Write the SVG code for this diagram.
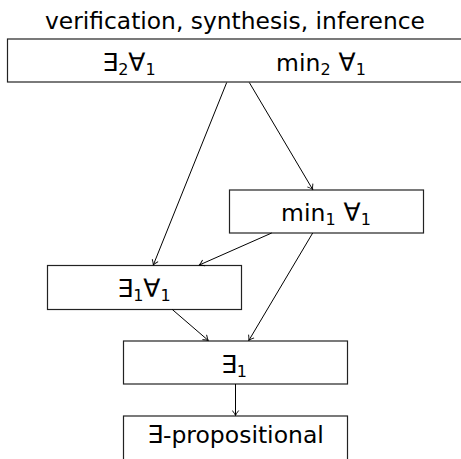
<svg xmlns="http://www.w3.org/2000/svg" width="461" height="459" viewBox="0 0 461 459">
<style>
.box{fill:#fff;stroke:#222;stroke-width:1.2}
.t{font-family:"DejaVu Sans",sans-serif;font-size:23.5px;fill:#000;text-anchor:middle}
.s{font-size:16px}
.q{font-size:25px}
.edge{fill:none;stroke:#000;stroke-width:1;marker-end:url(#arr)}
</style>
<defs>
<marker id="arr" viewBox="-6 -4 7 8" markerWidth="7" markerHeight="8" refX="0" refY="0" orient="auto" markerUnits="userSpaceOnUse">
<path d="M-5,-3.2 Q-2,-0.8 0,0 Q-2,0.8 -5,3.2" fill="none" stroke="#000" stroke-width="0.9"/>
</marker>
</defs>
<text class="t" x="235" y="29" textLength="380" lengthAdjust="spacingAndGlyphs">verification, synthesis, inference</text>
<g id="top">
<rect class="box" x="7.5" y="39" width="460" height="43"/>
<text class="t" x="129" y="71"><tspan class="q">∃</tspan><tspan class="s" dy="4">2</tspan><tspan class="q" dy="-4">∀</tspan><tspan class="s" dy="4">1</tspan></text>
<text class="t" x="321" y="71">min<tspan class="s" dy="4">2</tspan><tspan class="q" dy="-4"> ∀</tspan><tspan class="s" dy="4">1</tspan></text>
</g>
<g id="min1">
<rect class="box" x="229.5" y="190" width="194" height="43"/>
<text class="t" x="326" y="221">min<tspan class="s" dy="4">1</tspan><tspan class="q" dy="-4"> ∀</tspan><tspan class="s" dy="4">1</tspan></text>
</g>
<g id="e1a1">
<rect class="box" x="47.5" y="265.5" width="194" height="44"/>
<text class="t" x="144" y="297"><tspan class="q">∃</tspan><tspan class="s" dy="4">1</tspan><tspan class="q" dy="-4">∀</tspan><tspan class="s" dy="4">1</tspan></text>
</g>
<g id="e1">
<rect class="box" x="123.5" y="341" width="224" height="43"/>
<text class="t" x="234" y="373"><tspan class="q">∃</tspan><tspan class="s" dy="4">1</tspan></text>
</g>
<g id="eprop">
<rect class="box" x="123.5" y="416" width="224" height="50"/>
<text class="t" x="235.5" y="443"><tspan class="q">∃</tspan>-propositional</text>
</g>
<g id="edges">
<line class="edge" x1="226.7" y1="82.5" x2="153.3" y2="265"/>
<line class="edge" x1="249.3" y1="82.5" x2="312.7" y2="189.5"/>
<line class="edge" x1="271.7" y1="233" x2="199.3" y2="265"/>
<line class="edge" x1="312.7" y1="233" x2="248.8" y2="340.5"/>
<line class="edge" x1="172.3" y1="309.5" x2="208.3" y2="340.5"/>
<line class="edge" x1="235.5" y1="384" x2="235.5" y2="415.5"/>
</g>
</svg>
